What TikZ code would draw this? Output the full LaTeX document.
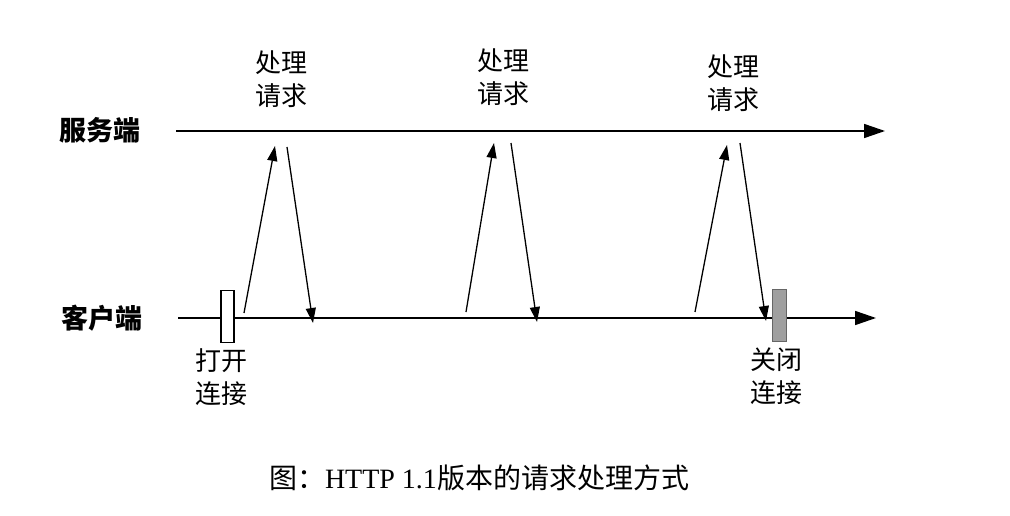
\documentclass[tikz,border=0pt]{standalone}
\usepackage{fontspec}
\setmainfont{Liberation Serif}
\newfontfamily\cjk{Noto Sans CJK SC}
\usetikzlibrary{arrows.meta}
\begin{document}
\begin{tikzpicture}[x=1pt,y=-1pt,
  lbl/.style={font=\cjk\fontsize{26}{33}\selectfont, align=center, inner sep=0pt},
  side/.style={font=\cjk\bfseries\fontsize{27}{30}\selectfont, inner sep=0pt},
  timeline/.style={line width=1.6pt, -{Triangle[length=21pt,width=14pt]}},
  msg/.style={line width=1.3pt, -{Triangle[length=15pt,width=10pt]}}]
\useasboundingbox (0,0) rectangle (1010,516);
% side labels
\node[side] (srv) at (100,130) {服务端};
\node[side] (cli) at (102,318) {客户端};
% timelines
\coordinate (s0) at (176,131);
\coordinate (s1) at (885,131);
\coordinate (c0) at (178,318);
\coordinate (c1) at (876,318);
\draw[timeline] (s0) -- (s1);
\draw[timeline] (c0) -- (c1);
% boxes
\node[draw, line width=1.5pt, minimum width=13pt, minimum height=52pt, inner sep=0pt, fill=white] (open) at (227.5,316.5) {};
\node[draw=gray!80!black, line width=0.6pt, fill=gray!75, minimum width=14pt, minimum height=52pt, inner sep=0pt] (close) at (779,315) {};
\node[lbl] (openl) at (221,377) {打开\\连接};
\node[lbl] (closel) at (776,376) {关闭\\连接};
% processing labels
\node[lbl] (p1) at (281,79) {处理\\请求};
\node[lbl] (p2) at (503,77) {处理\\请求};
\node[lbl] (p3) at (733,83) {处理\\请求};
% messages
\coordinate (a1) at (244,313); \coordinate (b1) at (275,146);
\coordinate (d1) at (287,147); \coordinate (e1) at (313,323);
\coordinate (a2) at (466,312); \coordinate (b2) at (494,143);
\coordinate (d2) at (511,143); \coordinate (e2) at (537,322);
\coordinate (a3) at (695,312); \coordinate (b3) at (727,145);
\coordinate (d3) at (740,143); \coordinate (e3) at (766,321);
\draw[msg] (a1) -- (b1);
\draw[msg] (d1) -- (e1);
\draw[msg] (a2) -- (b2);
\draw[msg] (d2) -- (e2);
\draw[msg] (a3) -- (b3);
\draw[msg] (d3) -- (e3);
% caption
\node[font=\fontsize{28}{30}\selectfont, inner sep=0pt] (cap) at (479,478) {{\cjk 图：}HTTP 1.1{\cjk 版本的请求处理方式}};
\end{tikzpicture}
\end{document}
